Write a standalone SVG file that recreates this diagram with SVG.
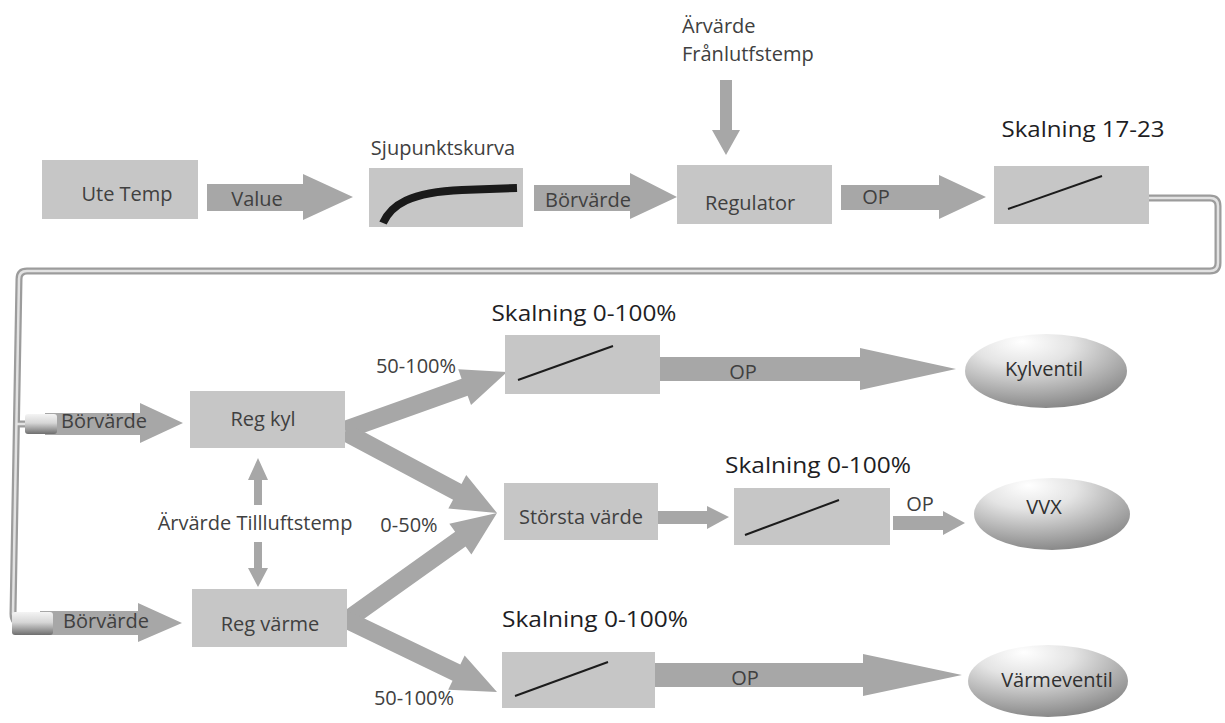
<svg xmlns="http://www.w3.org/2000/svg" width="1225" height="723" viewBox="0 0 1225 723">
<defs>
<style>
.box{fill:#c6c6c6}
.arr{fill:#a7a7a7}
.t{font-family:"Open Sans","Noto Sans","DejaVu Sans",sans-serif;font-size:20px;fill:#404040;dominant-baseline:central}
.m{text-anchor:middle}
.sk{font-family:"Open Sans","Noto Sans",sans-serif;font-size:22px;fill:#1e1e24;dominant-baseline:central;text-anchor:middle}
.ln{stroke:#1c1c1c;stroke-width:2;fill:none}
.ell{fill:url(#eg)}
.et{font-family:"Open Sans","Noto Sans",sans-serif;font-size:20px;fill:#303030;dominant-baseline:central;text-anchor:middle}
</style>
<radialGradient id="eg" cx="0.38" cy="0.2" r="0.85" fx="0.35" fy="0.1">
<stop offset="0" stop-color="#ffffff"/>
<stop offset="0.35" stop-color="#e4e4e4"/>
<stop offset="0.75" stop-color="#a8a8a8"/>
<stop offset="1" stop-color="#828282"/>
</radialGradient>
<linearGradient id="cyl" x1="0" y1="0" x2="0" y2="1">
<stop offset="0" stop-color="#f4f4f4"/>
<stop offset="0.45" stop-color="#d6d6d6"/>
<stop offset="1" stop-color="#6e6e6e"/>
</linearGradient>
</defs>
<rect width="1225" height="723" fill="#ffffff"/>

<g id="connectors">
<!-- pipe -->
<path d="M1149,198 H1210 Q1218,198 1218,206 V263 Q1218,271 1210,271 H27 Q19,271 19,279 L13,614 Q13,623 22,623 M17,424 H27" fill="none" stroke="#9c9c9c" stroke-width="7"/>
<path d="M1149,198 H1210 Q1218,198 1218,206 V263 Q1218,271 1210,271 H27 Q19,271 19,279 L13,614 Q13,623 22,623 M17,424 H27" fill="none" stroke="#e2e2e2" stroke-width="2.5"/>
<!-- top row arrows -->
<polygon class="arr" points="207,184 303,184 303,174 353,197 303,220 303,211 207,211"/>
<polygon class="arr" points="534,185 630,185 630,173 677,197 630,219 630,211 534,211"/>
<polygon class="arr" points="841,185 939,185 939,175 986,197 939,219 939,210 841,210"/>
<polygon class="arr" points="720,80 732,80 732,130 740,130 726,155 712,130 720,130"/>
<!-- lower Börvärde arrows -->
<polygon class="arr" points="45,413 140,413 140,403 183,423 140,443 140,435 45,435"/>
<rect x="25" y="414" width="32" height="20" rx="3" fill="url(#cyl)"/>
<polygon class="arr" points="40,611 138,611 138,603 182,623 138,642 138,635 40,635"/>
<rect x="12" y="612" width="41" height="23" rx="3" fill="url(#cyl)"/>
<!-- Ärvärde Tillluftstemp arrows -->
<polygon class="arr" points="258,458 268,480 262,480 262,505 254,505 254,480 248,480"/>
<polygon class="arr" points="254,542 262,542 262,568 268,568 258,587 248,568 254,568"/>
<!-- branch arrows -->
<polygon class="arr" points="348.03,438.47 467.66,395.64 471.03,405.06 507,372 458.23,369.28 461.60,378.70 341.97,421.53"/>
<polygon class="arr" points="340.77,439.94 453.05,499.77 448.34,508.60 497,513 466.22,475.06 461.51,483.89 349.23,424.06"/>
<polygon class="arr" points="352.23,627.33 465.60,546.46 471.40,554.60 497,513 449.34,523.66 455.14,531.80 341.77,612.67"/>
<polygon class="arr" points="343.11,628.11 452.54,680.64 448.21,689.66 497,692 464.65,655.40 460.32,664.42 350.89,611.89"/>
<!-- right side arrows -->
<polygon class="arr" points="660,357 860,357 860,348 956,369 860,390 860,381 660,381"/>
<polygon class="arr" points="658,511 707,511 707,506 729,517 707,529 707,524 658,524"/>
<polygon class="arr" points="893,516 943,516 943,511 965,523 943,535 943,530 893,530"/>
<polygon class="arr" points="655,663 863,663 863,654 962,675 863,696 863,687 655,687"/>
</g>

<g id="labels">
<text class="t m" x="257" y="198">Value</text>
<text class="t m" x="588" y="199">Börvärde</text>
<text class="t m" x="876" y="196">OP</text>
<text class="t" x="682" y="25">Ärvärde</text>
<text class="t" x="682" y="53">Frånlutfstemp</text>
<text class="t m" x="104" y="420">Börvärde</text>
<text class="t m" x="106" y="620">Börvärde</text>
<text class="t m" x="255" y="522">Ärvärde Tillluftstemp</text>
<text class="t m" x="416" y="365">50-100%</text>
<text class="t m" x="409" y="524">0-50%</text>
<text class="t m" x="414" y="697">50-100%</text>
<text class="t m" x="743" y="371">OP</text>
<text class="t m" x="920" y="503">OP</text>
<text class="t m" x="745" y="677">OP</text>
</g>

<g id="ute-temp">
<rect class="box" x="42" y="160" width="156" height="59"/>
<text class="t m" x="127" y="193">Ute Temp</text>
</g>

<g id="sjupunktskurva">
<text class="t m" x="443" y="147">Sjupunktskurva</text>
<rect class="box" x="369" y="168" width="154" height="59"/>
<path d="M383,223 C391,205 410,192 462,190 L517,188" fill="none" stroke="#1a1a1a" stroke-width="8"/>
</g>

<g id="regulator">
<rect class="box" x="677" y="165" width="155" height="59"/>
<text class="t m" x="750" y="202">Regulator</text>
</g>

<g id="skalning-17-23">
<text class="sk" x="1083" y="128" textLength="163" lengthAdjust="spacingAndGlyphs">Skalning 17-23</text>
<rect class="box" x="994" y="166" width="155" height="58"/>
<line class="ln" x1="1008" y1="209" x2="1102" y2="176"/>
</g>

<g id="reg-kyl">
<rect class="box" x="190" y="391" width="155" height="57"/>
<text class="t m" x="263" y="418">Reg kyl</text>
</g>

<g id="reg-varme">
<rect class="box" x="192" y="589" width="155" height="58"/>
<text class="t m" x="270" y="623">Reg värme</text>
</g>

<g id="skalning-kyl">
<text class="sk" x="584" y="312" textLength="185" lengthAdjust="spacingAndGlyphs">Skalning 0-100%</text>
<rect class="box" x="505" y="335" width="155" height="59"/>
<line class="ln" x1="518" y1="380" x2="613" y2="346"/>
</g>

<g id="storsta-varde">
<rect class="box" x="504" y="483" width="154" height="57"/>
<text class="t m" x="581" y="516">Största värde</text>
</g>

<g id="skalning-vvx">
<text class="sk" x="818" y="464" textLength="186" lengthAdjust="spacingAndGlyphs">Skalning 0-100%</text>
<rect class="box" x="734" y="488" width="156" height="57"/>
<line class="ln" x1="745" y1="535" x2="839" y2="500"/>
</g>

<g id="skalning-varme">
<text class="sk" x="595" y="618" textLength="186" lengthAdjust="spacingAndGlyphs">Skalning 0-100%</text>
<rect class="box" x="502" y="652" width="153" height="56"/>
<line class="ln" x1="515" y1="696" x2="608" y2="662"/>
</g>

<g id="kylventil">
<ellipse class="ell" cx="1046" cy="371" rx="81" ry="37"/>
<text class="et" x="1044" y="368">Kylventil</text>
</g>

<g id="vvx">
<ellipse class="ell" cx="1052" cy="514" rx="78" ry="36"/>
<text class="et" x="1044" y="506">VVX</text>
</g>

<g id="varmeventil">
<ellipse class="ell" cx="1048" cy="681" rx="80" ry="36"/>
<text class="et" x="1057" y="679">Värmeventil</text>
</g>
</svg>
